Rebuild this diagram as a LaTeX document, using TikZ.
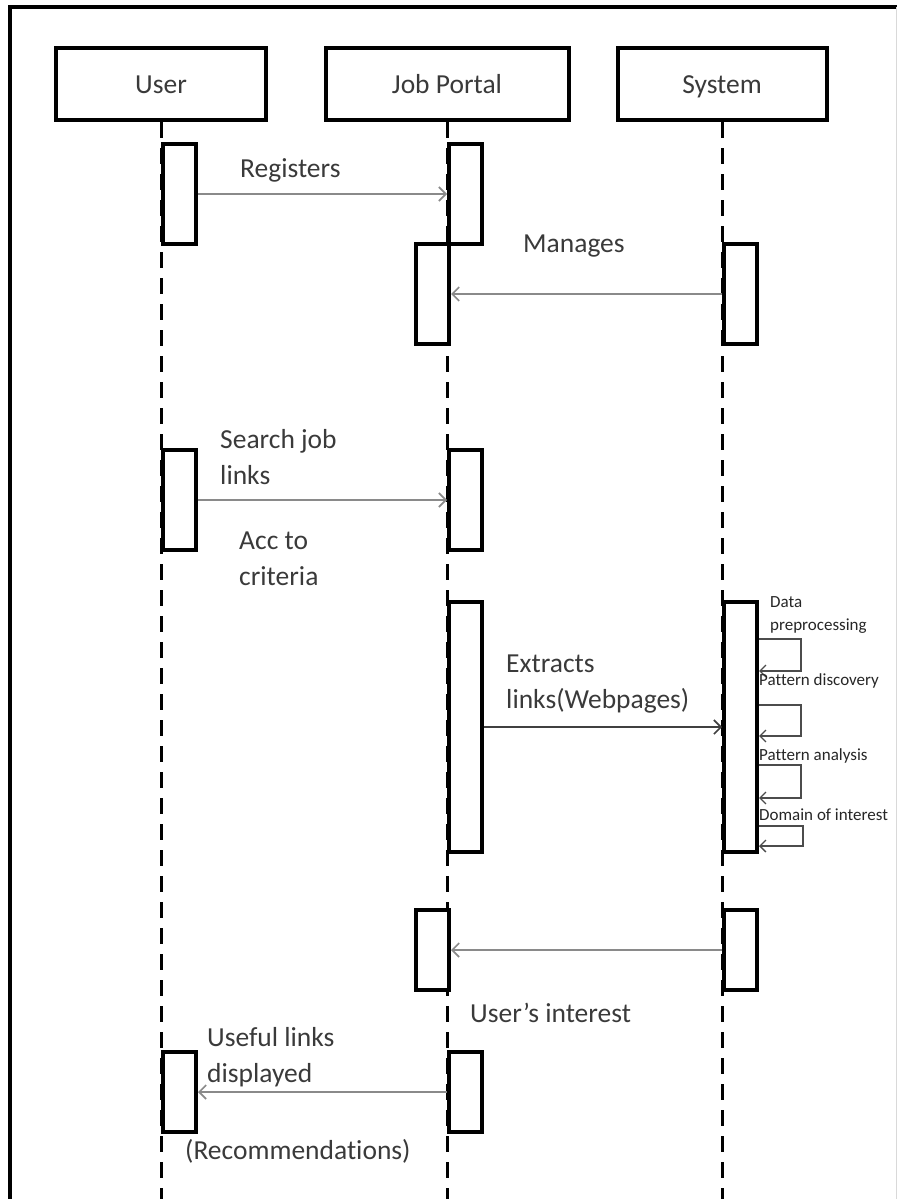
\documentclass[tikz,border=0pt]{standalone}
\usepackage{fontspec}
\setmainfont{Carlito}[Ligatures=NoCommon]
\usetikzlibrary{arrows.meta}
\definecolor{txt}{HTML}{3A3A3A}
\definecolor{msg}{HTML}{8A8A8A}
\tikzset{
  head/.style={draw=black, line width=4pt, fill=white, inner sep=0pt, text=txt,
    text height=22pt, text depth=3pt},
  act/.style={draw=black, line width=4pt, fill=white, inner sep=0pt, minimum width=33pt, anchor=north west},
  lifeline/.style={draw=black, line width=3pt, dash pattern=on 16pt off 10pt},
  call/.style={draw=msg, line width=2pt, -{Straight Barb[length=7pt,width=14pt,line width=1.6pt]}},
  selfcall/.style={draw=black!70, line width=1.6pt, -{Straight Barb[length=6pt,width=12pt,line width=1.3pt]}},
  lbl/.style={anchor=base west, inner sep=0pt, align=left, text=txt,
    font=\fontsize{27.5pt}{36.5pt}\selectfont},
  small/.style={anchor=base west, inner sep=0pt, align=left, text=black!85,
    font=\fontsize{17pt}{23pt}\selectfont},
}
\begin{document}
\begin{tikzpicture}[x=1pt, y=-1pt, font=\fontsize{27.5pt}{36pt}\selectfont]
\useasboundingbox (0,0) rectangle (897,1199);

% outer frame
\draw[line width=4.5pt] (10,1199) -- (10,7) -- (897,7);
\draw[black!15, line width=1pt] (896,7) -- (896,1199);

% lifeline heads
\node[head, minimum width=210pt, minimum height=72pt] (user) at (161,84) {User};
\node[head, minimum width=243pt, minimum height=72pt] (portal) at (447,84) {Job Portal};
\node[head, minimum width=209pt, minimum height=72pt] (system) at (722,84) {System};

% lifelines
\coordinate (userEnd) at (161,1199);
\coordinate (portalEnd) at (447,1199);
\coordinate (systemEnd) at (722,1199);
\draw[lifeline] (user.south) -- (userEnd);
\draw[lifeline] (portal.south) -- (portalEnd);
\draw[lifeline] (system.south) -- (systemEnd);

% activation bars
\node[act, minimum height=100pt] (u1) at (161,142) {};
\node[act, minimum height=100pt] (j1) at (447,142) {};
\node[act, minimum height=100pt] (j2) at (414,242) {};
\node[act, minimum height=100pt] (s1) at (722,242) {};
\node[act, minimum height=100pt] (u2) at (161,448) {};
\node[act, minimum height=100pt] (j3) at (447,448) {};
\node[act, minimum height=250pt] (j4) at (447,600) {};
\node[act, minimum height=250pt] (s2) at (722,600) {};
\node[act, minimum height=80pt] (j5) at (414,908) {};
\node[act, minimum height=80pt] (s3) at (722,908) {};
\node[act, minimum height=80pt] (u3) at (161,1050) {};
\node[act, minimum height=80pt] (j6) at (447,1050) {};

% messages
\draw[call] (u1.east) -- (j1.west);
\draw[call] (s1.west) -- (j2.east);
\draw[call] (u2.east) -- (j3.west);
\draw[call, draw=black!75] (j4.east) -- (s2.west);
\draw[call] (s3.west) -- (j5.east);
\draw[call] (j6.west) -- (u3.east);

% self calls on the system
\draw[selfcall] ([yshift=-39pt]s2.north east) -- ++(42,0) -- ++(0,32) -- ([yshift=-71pt]s2.north east);
\draw[selfcall] ([yshift=-105pt]s2.north east) -- ++(42,0) -- ++(0,31) -- ([yshift=-136pt]s2.north east);
\draw[selfcall] ([yshift=-165pt]s2.north east) -- ++(42,0) -- ++(0,33) -- ([yshift=-198pt]s2.north east);
\draw[selfcall] ([yshift=-226pt]s2.north east) -- ++(44,0) -- ++(0,20) -- ([yshift=-246pt]s2.north east);

% message labels (base = baseline of the last line)
\node[lbl] (tReg) at (240,177) {Registers};
\node[lbl] (tMan) at (523,252) {Manages};
\node[lbl] (tSearch) at (220,484.5) {Search job\\links};
\node[lbl] (tAcc) at (239,585.5) {Acc to\\criteria};
\node[lbl] (tExt) at (506,708.5) {Extracts\\links(Webpages)};
\node[lbl] (tInt) at (470,1022) {User’s interest};
\node[lbl] (tUse) at (207,1082.5) {Useful links\\displayed};
\node[lbl] (tRec) at (185,1159) {(Recommendations)};

% self call labels
\node[small] (tData) at (770,630) {Data\\preprocessing};
\node[small] (tDisc) at (759,685) {Pattern discovery};
\node[small] (tAna) at (759,760) {Pattern analysis};
\node[small] (tDom) at (759,820) {Domain of interest};
\end{tikzpicture}
\end{document}
